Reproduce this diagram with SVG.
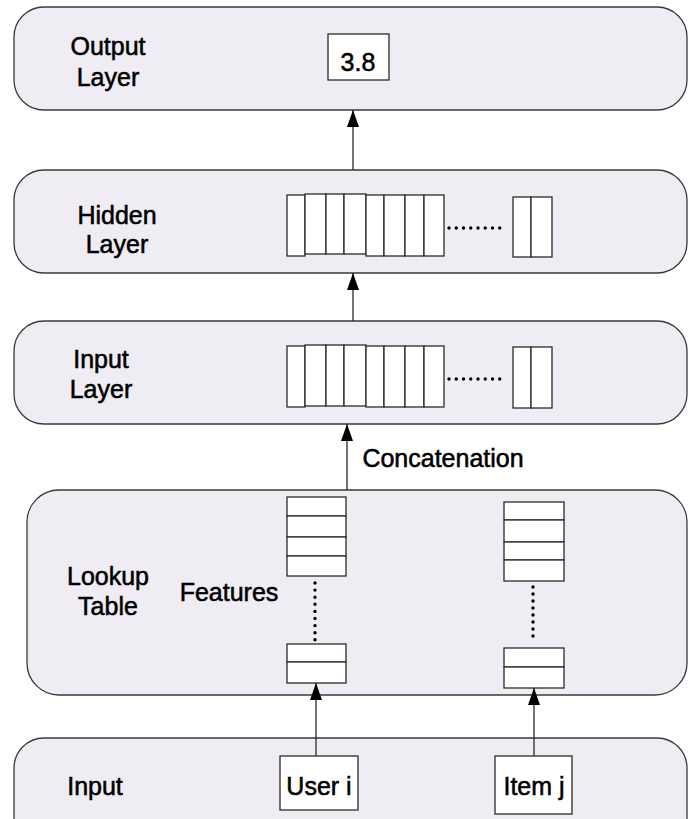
<svg xmlns="http://www.w3.org/2000/svg" width="688" height="819" viewBox="0 0 688 819">
<defs>
<style>
.layer{fill:#EFEDF3;stroke:#3a3a3a;stroke-width:1.3}
.cell{fill:#ffffff;stroke:#2a2a2a;stroke-width:1.3}
.lbl{font-family:"Liberation Sans",Arial,sans-serif;font-size:25px;fill:#000;stroke:#000;stroke-width:0.55;text-anchor:middle}
.conn{stroke:#2a2a2a;stroke-width:1.3;fill:none}
.dots{stroke:#000;stroke-width:3.4;stroke-linecap:round;fill:none}
</style>
<marker id="ah" viewBox="0 0 17 12" refX="17" refY="6" markerWidth="17" markerHeight="12" markerUnits="userSpaceOnUse" orient="auto">
<path d="M0,0 L17,6 L0,12 Z" fill="#000"/>
</marker>
</defs>
<rect width="688" height="819" fill="#ffffff"/>

<g id="output-layer">
<rect class="layer" x="14" y="7" width="673" height="103" rx="30" ry="30"/>
<text class="lbl" x="108" y="55">Output</text>
<text class="lbl" x="108" y="86">Layer</text>
<rect class="cell" x="328" y="34" width="61" height="46"/>
<text class="lbl" x="358" y="71">3.8</text>
</g>

<g id="hidden-layer">
<rect class="layer" x="14" y="170" width="673" height="103" rx="30" ry="30"/>
<text class="lbl" x="117" y="224">Hidden</text>
<text class="lbl" x="117" y="253">Layer</text>
<rect class="cell" x="287" y="195" width="18" height="61"/>
<rect class="cell" x="305" y="194" width="21" height="60"/>
<rect class="cell" x="326" y="194" width="18" height="60"/>
<rect class="cell" x="344" y="194" width="22" height="60"/>
<rect class="cell" x="366" y="195" width="18" height="61"/>
<rect class="cell" x="384" y="195" width="21" height="61"/>
<rect class="cell" x="405" y="195" width="19" height="61"/>
<rect class="cell" x="424" y="195" width="20" height="61"/>
<line class="dots" x1="449" y1="228" x2="507" y2="228" stroke-dasharray="0 7.25"/>
<rect class="cell" x="513" y="197" width="18" height="60"/>
<rect class="cell" x="531" y="197" width="21" height="60"/>
</g>

<g id="input-layer">
<rect class="layer" x="14" y="321" width="673" height="103" rx="30" ry="30"/>
<text class="lbl" x="101" y="368">Input</text>
<text class="lbl" x="101" y="398">Layer</text>
<rect class="cell" x="287" y="346" width="18" height="61"/>
<rect class="cell" x="305" y="345" width="21" height="61"/>
<rect class="cell" x="326" y="345" width="18" height="61"/>
<rect class="cell" x="344" y="345" width="22" height="61"/>
<rect class="cell" x="366" y="346" width="18" height="61"/>
<rect class="cell" x="384" y="346" width="21" height="61"/>
<rect class="cell" x="405" y="346" width="19" height="61"/>
<rect class="cell" x="424" y="346" width="20" height="61"/>
<line class="dots" x1="449" y1="379" x2="507" y2="379" stroke-dasharray="0 7.25"/>
<rect class="cell" x="513" y="347" width="18" height="61"/>
<rect class="cell" x="531" y="347" width="21" height="61"/>
</g>

<g id="lookup-table">
<rect class="layer" x="27" y="490" width="660" height="205" rx="32" ry="32"/>
<text class="lbl" x="108" y="585">Lookup</text>
<text class="lbl" x="108" y="615">Table</text>
<text class="lbl" x="229" y="601">Features</text>
<rect class="cell" x="287" y="497" width="59" height="19"/>
<rect class="cell" x="287" y="516" width="59" height="21"/>
<rect class="cell" x="287" y="537" width="59" height="19"/>
<rect class="cell" x="287" y="556" width="59" height="20"/>
<line class="dots" x1="315" y1="583" x2="315" y2="640" stroke-dasharray="0 7.1"/>
<rect class="cell" x="287" y="644" width="59" height="18"/>
<rect class="cell" x="287" y="662" width="59" height="21"/>
<rect class="cell" x="504" y="502" width="60" height="18"/>
<rect class="cell" x="504" y="520" width="60" height="22"/>
<rect class="cell" x="504" y="542" width="60" height="18"/>
<rect class="cell" x="504" y="560" width="60" height="21"/>
<line class="dots" x1="533" y1="587" x2="533" y2="643" stroke-dasharray="0 7"/>
<rect class="cell" x="504" y="648" width="60" height="19"/>
<rect class="cell" x="504" y="667" width="60" height="21"/>
</g>

<g id="input">
<rect class="layer" x="14" y="738" width="673" height="110" rx="30" ry="30"/>
<text class="lbl" x="95" y="795">Input</text>
<rect class="cell" x="280" y="756" width="78" height="54"/>
<text class="lbl" x="319" y="795">User i</text>
<rect class="cell" x="495" y="756" width="77" height="58"/>
<text class="lbl" x="534" y="795">Item j</text>
</g>

<g id="connectors">
<line class="conn" x1="353" y1="170" x2="353" y2="110" marker-end="url(#ah)"/>
<line class="conn" x1="353" y1="321" x2="353" y2="273" marker-end="url(#ah)"/>
<line class="conn" x1="347" y1="490" x2="347" y2="424" marker-end="url(#ah)"/>
<text class="lbl" x="443" y="467">Concatenation</text>
<line class="conn" x1="316" y1="756" x2="316" y2="683" marker-end="url(#ah)"/>
<line class="conn" x1="534" y1="756" x2="534" y2="688" marker-end="url(#ah)"/>
</g>
</svg>
